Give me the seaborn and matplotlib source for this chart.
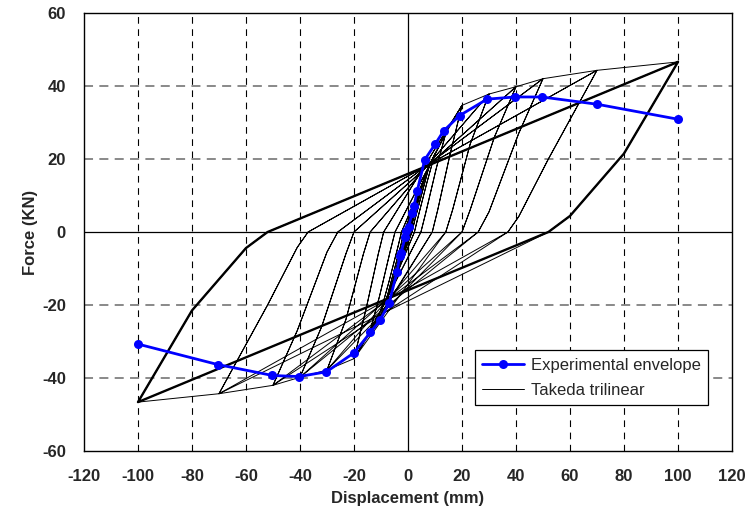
import numpy as np
import pandas as pd
import seaborn as sns
import matplotlib.pyplot as plt

# experimental envelope
env_disp = [-100, -70.5, -50.2, -40.4, -30.2, -20.0, -13.9, -10.3, -7.0, -4.1, -3.0, -2.6,
            -1.0, -0.6, 0.2, 1.6, 2.2, 3.4, 6.2, 10.0, 13.2, 19.1, 29.3, 39.6, 49.6, 70.1, 100]
env_force = [-30.7, -36.3, -39.3, -39.6, -38.3, -33.1, -27.5, -24.1, -19.5, -11.0, -6.6, -5.7,
             -1.4, 0.2, 1.5, 5.2, 7.0, 11.2, 19.8, 24.0, 27.7, 31.9, 36.4, 37.0, 37.0, 35.0, 30.9]

# Takeda trilinear model: peak of each amplitude, two points on the unloading branch,
# and the displacement where unloading crosses zero force (mirrored for the negative side)
amp = [2, 4, 6, 8, 10, 14, 20, 30, 40, 50, 70, 100]
peak_force = [5.5, 10.5, 14.5, 18.5, 21.5, 27.0, 34.7, 37.8, 39.8, 42.0, 44.3, 46.6]
unload1_x = [1.2, 2.6, 4.0, 5.5, 7.0, 10.5, 15.5, 23.0, 32.0, 41.0, 52.0, 80.0]
unload1_f = [3.2, 6.5, 9.0, 11.5, 13.5, 17.5, 21.0, 24.0, 26.0, 27.0, 20.0, 21.5]
unload2_x = [0.4, 1.0, 1.8, 2.6, 3.7, 6.5, 11.0, 16.5, 23.0, 30.0, 41.0, 60.0]
unload2_f = [1.0, 2.0, 3.0, 3.5, 4.0, 5.0, 6.0, 6.0, 6.0, 5.5, 4.2, 4.4]
zero_x = [0.1, 0.4, 0.9, 1.5, 2.4, 4.8, 9.0, 14.0, 20.0, 26.0, 37.0, 52.0]

# walk the load history: two cycles per amplitude
px, py = [0.0], [0.0]
for i in range(len(amp)):
    for rep in range(2):
        if rep == 0 and i > 0:
            px.append(amp[i-1]); py.append(peak_force[i-1])
        px += [amp[i], unload1_x[i], unload2_x[i], zero_x[i]]
        py += [peak_force[i], unload1_f[i], unload2_f[i], 0]
        if rep == 0 and i > 0:
            px.append(-amp[i-1]); py.append(-peak_force[i-1])
        px += [-amp[i], -unload1_x[i], -unload2_x[i], -zero_x[i]]
        py += [-peak_force[i], -unload1_f[i], -unload2_f[i], 0]
px.append(amp[-1]); py.append(peak_force[-1])

takeda = pd.DataFrame({'disp': px, 'force': py})
last_loop = takeda.iloc[-9:]
env = pd.DataFrame({'disp': env_disp, 'force': env_force})

sns.set_style("white")
plt.rcParams['font.family'] = ['Liberation Sans', 'DejaVu Sans']
plt.rcParams['axes.unicode_minus'] = False

fig = plt.figure(figsize=(7.47, 5.29), dpi=100)
ax = fig.add_axes([0.1124, 0.1474, 0.8675, 0.828])

for x in range(-100, 120, 20):
    if x != 0:
        ax.axvline(x, color='black', lw=0.8, ls=(0, (6, 5)), zorder=0)
for y in range(-40, 60, 20):
    if y != 0:
        ax.axhline(y, color='#808080', lw=1.3, ls=(0, (5, 3.5)), zorder=0)
ax.axhline(0, color='black', lw=0.9, zorder=1)
ax.axvline(0, color='black', lw=0.9, zorder=1)

sns.lineplot(data=takeda, x='disp', y='force', sort=False, estimator=None,
             color='black', lw=0.7, ax=ax, label='Takeda trilinear', zorder=2)
sns.lineplot(data=last_loop, x='disp', y='force', sort=False, estimator=None,
             color='black', lw=1.7, ax=ax, zorder=2)
sns.lineplot(data=env, x='disp', y='force', sort=False, estimator=None,
             color='#0000FF', lw=2.0, marker='o', markersize=6.5, markeredgewidth=0,
             ax=ax, label='Experimental envelope', zorder=3)

ax.set_xlim(-120, 120)
ax.set_ylim(-60, 60)
ax.set_xticks(range(-120, 121, 20))
ax.set_yticks(range(-60, 61, 20))
ax.tick_params(direction='in', length=5, width=0.8, labelsize=12, pad=13)
for lab in ax.get_xticklabels() + ax.get_yticklabels():
    lab.set_fontweight('bold')
for s in ax.spines.values():
    s.set_color('black')
    s.set_linewidth(1.0)

ax.set_xlabel('Displacement (mm)', fontsize=12, fontweight='bold', labelpad=5)
ax.set_ylabel('Force (KN)', fontsize=12, fontweight='bold', labelpad=3)

h, l = ax.get_legend_handles_labels()
leg = ax.legend(h[::-1], l[::-1], loc='lower right', bbox_to_anchor=(0.963, 0.105),
                fontsize=12, frameon=True, fancybox=False, edgecolor='black',
                framealpha=1, borderpad=0.45, handlelength=2.5, labelspacing=0.6,
                handletextpad=0.4, borderaxespad=0)
leg.get_frame().set_linewidth(0.9)

fig.savefig('out.png', dpi=100)
